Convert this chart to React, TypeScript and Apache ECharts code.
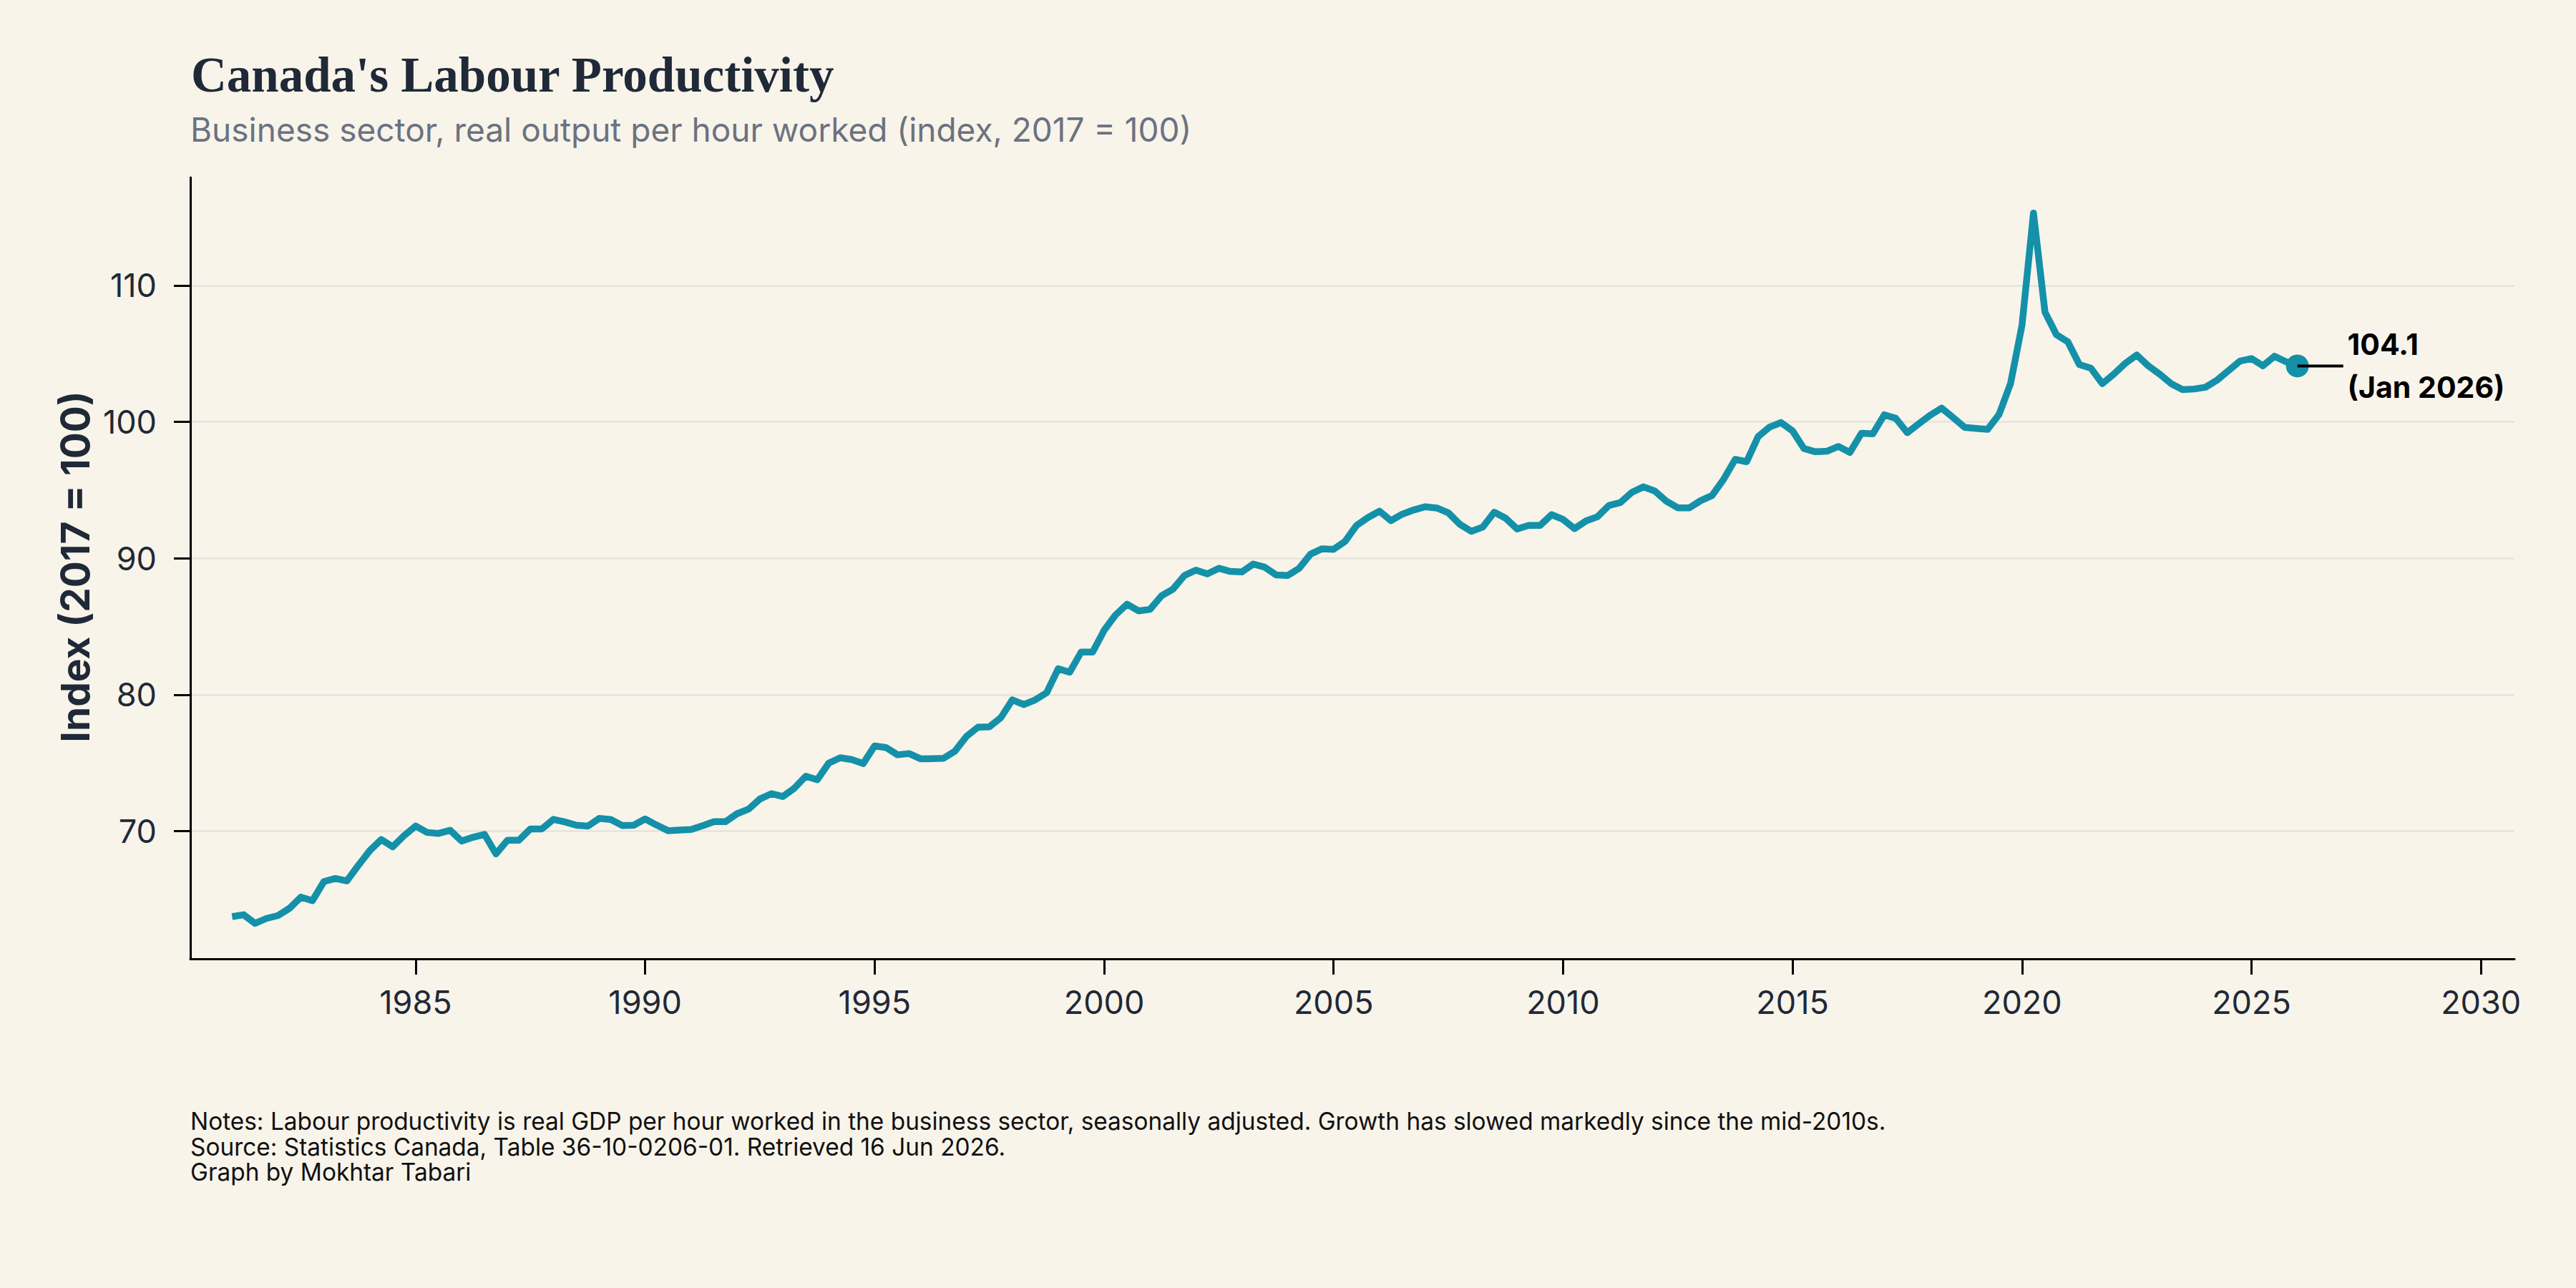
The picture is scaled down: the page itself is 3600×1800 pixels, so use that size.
import React, { useEffect, useRef } from "react";
import * as echarts from "echarts";

// Quarterly labour productivity index (2017 = 100), business sector, starting 1981 Q1.
const FIRST_YEAR = 1981;
const QUARTER_MONTHS = ["Jan", "Apr", "Jul", "Oct"];

const productivity1980s = [
  63.74, 63.88, 63.25, 63.61, 63.82, 64.35, 65.17, 64.91, 66.31, 66.54,
  66.36, 67.5, 68.58, 69.39, 68.86, 69.69, 70.38, 69.91, 69.84, 70.07,
  69.28, 69.56, 69.77, 68.34, 69.34, 69.34, 70.17, 70.17, 70.87, 70.68,
  70.44, 70.37, 70.94, 70.86, 70.42, 70.44,
];
const productivity1990s = [
  70.9, 70.45, 70.04, 70.09, 70.12, 70.4, 70.7, 70.7, 71.28, 71.61,
  72.36, 72.75, 72.54, 73.15, 74.03, 73.77, 74.99, 75.38, 75.25, 74.96,
  76.25, 76.13, 75.6, 75.69, 75.31, 75.32, 75.34, 75.87, 76.95, 77.62,
  77.65, 78.32, 79.63, 79.28, 79.63, 80.16, 81.91, 81.65, 83.13, 83.13,
];
const productivity2000s = [
  84.72, 85.85, 86.64, 86.15, 86.26, 87.25, 87.74, 88.74, 89.14, 88.86,
  89.27, 89.04, 89.0, 89.58, 89.35, 88.78, 88.74, 89.27, 90.31, 90.7,
  90.66, 91.24, 92.41, 92.99, 93.46, 92.76, 93.24, 93.55, 93.78, 93.69,
  93.34, 92.5, 91.98, 92.29, 93.38, 92.94, 92.15, 92.41, 92.41, 93.2,
];
const productivity2010s = [
  92.85, 92.18, 92.74, 93.05, 93.88, 94.09, 94.84, 95.24, 94.93, 94.19,
  93.7, 93.7, 94.23, 94.61, 95.8, 97.25, 97.08, 98.92, 99.62, 99.95,
  99.34, 98.04, 97.81, 97.85, 98.2, 97.76, 99.16, 99.13, 100.52, 100.26,
  99.21, 99.86, 100.49, 101.01, 100.31, 99.6, 99.52, 99.45, 100.55, 102.8,
];
const productivity2020s = [
  107.09, 115.31, 108.05, 106.39, 105.86, 104.2, 103.94, 102.8, 103.5, 104.29,
  104.9, 104.11, 103.5, 102.8, 102.36, 102.41, 102.54, 103.06, 103.76, 104.46,
  104.64, 104.11, 104.81, 104.41, 104.1,
];

const X_TICKS = [1985, 1990, 1995, 2000, 2005, 2010, 2015, 2020, 2025, 2030];
const Y_TICKS = [70, 80, 90, 100, 110];
const X_MIN = 1980.09;
const X_MAX = 2030.73;
const LEADER_YEARS = 1.0;

const TITLE = "Canada's Labour Productivity";
const SUBTITLE = "Business sector, real output per hour worked (index, 2017 = 100)";
const Y_NAME = "Index (2017 = 100)";
const FOOTNOTES = [
  "Notes: Labour productivity is real GDP per hour worked in the business sector, seasonally adjusted. Growth has slowed markedly since the mid-2010s.",
  "Source: Statistics Canada, Table 36-10-0206-01. Retrieved 16 Jun 2026.",
  "Graph by Mokhtar Tabari",
];

const BG = "#f8f4ea";
const LINE = "#1491a9";
const INK = "#1f2937";
const SANS = "Inter, 'Noto Sans', sans-serif";

export default function App() {
  const ref = useRef<HTMLDivElement>(null);

  useEffect(() => {
    if (!ref.current) return;
    const chart = echarts.init(ref.current, undefined, { renderer: "svg" });

    const values = [
      ...productivity1980s,
      ...productivity1990s,
      ...productivity2000s,
      ...productivity2010s,
      ...productivity2020s,
    ];
    const points = values.map((v, i) => [
      FIRST_YEAR + Math.floor(i / 4) + ((i % 4) * 3) / 12,
      v,
    ]);
    const last = points[points.length - 1];
    const lastIdx = values.length - 1;
    const lastLabel = `${QUARTER_MONTHS[lastIdx % 4]} ${FIRST_YEAR + Math.floor(lastIdx / 4)}`;

    const lo = Math.min(...values);
    const hi = Math.max(...values);
    const pad = (hi - lo) * 0.05;

    chart.setOption({
      animation: false,
      backgroundColor: BG,
      grid: { left: 266, right: 86, top: 248, bottom: 460 },
      xAxis: {
        type: "value",
        min: X_MIN,
        max: X_MAX,
        axisLine: { show: true, onZero: false, lineStyle: { color: "#000", width: 3 } },
        axisTick: {
          show: true,
          customValues: X_TICKS,
          length: 22,
          lineStyle: { color: "#000", width: 3 },
        },
        axisLabel: {
          customValues: X_TICKS,
          formatter: (v: number) => String(v),
          fontFamily: SANS,
          fontSize: 45,
          color: INK,
          margin: 38,
        },
        splitLine: { show: false },
      },
      yAxis: {
        type: "value",
        min: lo - pad,
        max: hi + pad,
        axisLine: { show: true, onZero: false, lineStyle: { color: "#000", width: 3 } },
        axisTick: {
          show: true,
          customValues: Y_TICKS,
          length: 23,
          lineStyle: { color: "#000", width: 3 },
        },
        axisLabel: {
          customValues: Y_TICKS,
          formatter: (v: number) => String(v),
          fontFamily: SANS,
          fontSize: 45,
          color: INK,
          margin: 47,
        },
        splitLine: { show: true, lineStyle: { color: "#e6e3dc", width: 2.5 } },
      },
      series: [
        {
          type: "line",
          data: points,
          showSymbol: false,
          silent: true,
          z: 2,
          lineStyle: { color: LINE, width: 9.5, join: "round", cap: "butt" },
        },
        {
          type: "scatter",
          data: [last],
          symbolSize: 32,
          silent: true,
          z: 3,
          itemStyle: { color: LINE, opacity: 1 },
          label: {
            show: true,
            position: "right",
            distance: 54,
            formatter: (p: any) => `${p.value[1].toFixed(1)}\n(${lastLabel})`,
            fontFamily: SANS,
            fontWeight: "bold",
            fontSize: 41,
            lineHeight: 60,
            color: "#000",
            opacity: 1,
            align: "left",
          },
        },
        {
          type: "line",
          data: [last, [last[0] + LEADER_YEARS, last[1]]],
          showSymbol: false,
          silent: true,
          z: 4,
          lineStyle: { color: "#000", width: 4 },
        },
      ],
      graphic: [
        {
          type: "text",
          x: 267,
          y: 104.5,
          style: {
            text: TITLE,
            fontFamily: "'Liberation Serif', 'DejaVu Serif', serif",
            fontWeight: "bold",
            fontSize: 69,
            fill: INK,
            align: "left",
            verticalAlign: "middle",
          },
        },
        {
          type: "text",
          x: 266,
          y: 181,
          style: {
            text: SUBTITLE,
            fontFamily: SANS,
            fontSize: 46,
            fill: "#6b7280",
            align: "left",
            verticalAlign: "middle",
          },
        },
        {
          type: "text",
          x: 105,
          y: 792,
          rotation: Math.PI / 2,
          style: {
            text: Y_NAME,
            fontFamily: SANS,
            fontWeight: "bold",
            fontSize: 55,
            fill: INK,
            align: "center",
            verticalAlign: "middle",
          },
        },
        ...FOOTNOTES.map((line, k) => ({
          type: "text",
          x: 266,
          y: 1567 + k * 35.5,
          style: {
            text: line,
            fontFamily: SANS,
            fontSize: 33.4,
            fill: "#111111",
            align: "left",
            verticalAlign: "middle",
          },
        })),
      ],
    });

    return () => chart.dispose();
  }, []);

  return (
    <div
      ref={ref}
      style={{ position: "fixed", left: 0, top: 0, width: 3600, height: 1800 }}
    />
  );
}
